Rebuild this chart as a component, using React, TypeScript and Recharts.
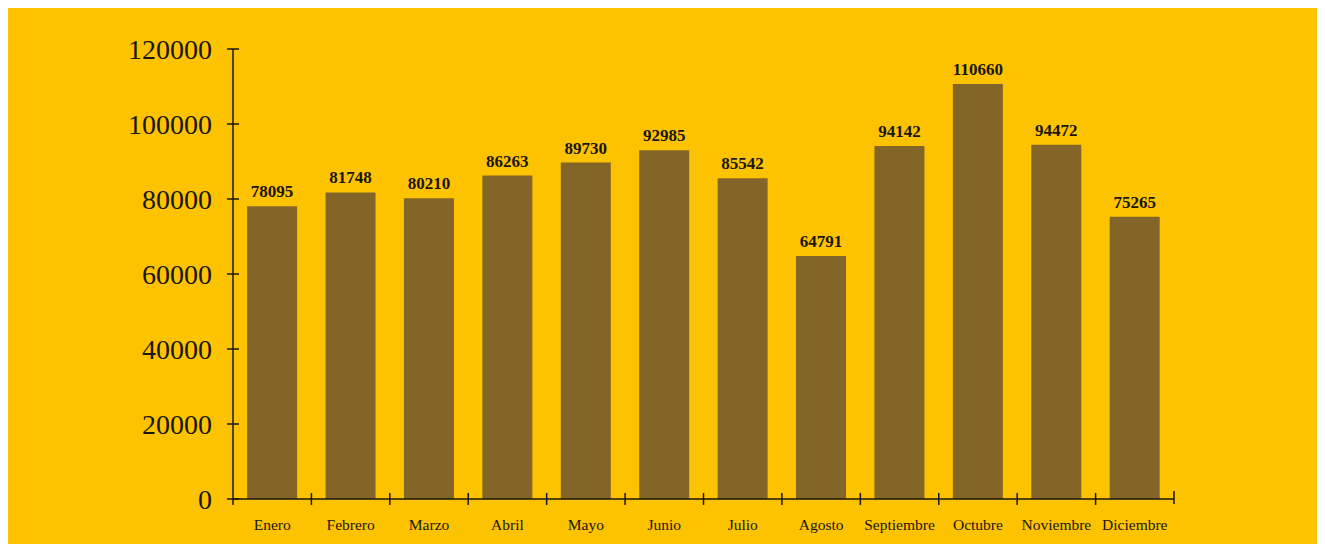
import { BarChart, Bar, XAxis, YAxis, LabelList } from "recharts";

const MONTHS = [
  "Enero",
  "Febrero",
  "Marzo",
  "Abril",
  "Mayo",
  "Junio",
  "Julio",
  "Agosto",
  "Septiembre",
  "Octubre",
  "Noviembre",
  "Diciembre",
];

const VALUES = [78095, 81748, 80210, 86263, 89730, 92985, 85542, 64791, 94142, 110660, 94472, 75265];

const Y_TICKS = [0, 20000, 40000, 60000, 80000, 100000, 120000];

const BG = "#fdc300";
const BAR = "#846528";
const INK = "#1a160e";
const FONT = "'Liberation Serif', 'Times New Roman', serif";

const W = 1317;
const H = 536;
const Y_AXIS_W = 225;
const X_AXIS_H = 45;
const MARGIN = { top: 41, right: 151, left: 0, bottom: 0 };
const BAND = (W - Y_AXIS_W - MARGIN.right) / MONTHS.length;

const Y_TICK_SIZE = 6;
const Y_TICK_MARGIN = 15;
const X_TICK_SIZE = 6;
const X_TICK_MARGIN = 0;

const data = MONTHS.map((month, i) => ({ month, value: VALUES[i] }));

// y ticks cross the axis line, so add the inner half by hand
function YTick(props: any) {
  const { x, y, payload } = props;
  const axisX = x + Y_TICK_SIZE + Y_TICK_MARGIN;
  return (
    <g>
      <line x1={axisX} x2={axisX + 6} y1={y} y2={y} stroke={INK} strokeWidth={1.5} />
      <text
        x={axisX - 21}
        y={y}
        dy="0.35em"
        textAnchor="end"
        fill={INK}
        fontSize={28}
        fontFamily={FONT}
      >
        {payload.value}
      </text>
    </g>
  );
}

// x ticks sit on the category boundaries, labels in the middle
function XTick(props: any) {
  const { x, y, payload, index } = props;
  const axisY = y - X_TICK_SIZE - X_TICK_MARGIN;
  const left = x - BAND / 2;
  const right = x + BAND / 2;
  return (
    <g>
      <line x1={left} x2={left} y1={index === 0 ? axisY : axisY - 6} y2={axisY + 6} stroke={INK} strokeWidth={1.5} />
      {index === MONTHS.length - 1 && (
        <line x1={right} x2={right} y1={axisY - 8} y2={axisY + 5} stroke={INK} strokeWidth={1.5} />
      )}
      <text
        x={x}
        y={axisY + 26}
        dy="0.35em"
        textAnchor="middle"
        fill={INK}
        fontSize={15.5}
        fontFamily={FONT}
      >
        {payload.value}
      </text>
    </g>
  );
}

export default function App() {
  return (
    <div style={{ width: W, height: H, background: BG }}>
      <BarChart width={W} height={H} data={data} margin={MARGIN} barCategoryGap="18%">
        <XAxis
          dataKey="month"
          height={X_AXIS_H}
          interval={0}
          tickLine={false}
          tickSize={X_TICK_SIZE}
          tickMargin={X_TICK_MARGIN}
          axisLine={{ stroke: INK, strokeWidth: 1.5 }}
          tick={<XTick />}
        />
        <YAxis
          width={Y_AXIS_W}
          domain={[0, 120000]}
          ticks={Y_TICKS}
          interval={0}
          tickSize={Y_TICK_SIZE}
          tickMargin={Y_TICK_MARGIN}
          tickLine={{ stroke: INK, strokeWidth: 1.5 }}
          axisLine={{ stroke: INK, strokeWidth: 1.5 }}
          tick={<YTick />}
        />
        <Bar dataKey="value" fill={BAR} isAnimationActive={false}>
          <LabelList
            dataKey="value"
            position="top"
            offset={9}
            fill={INK}
            fontSize={17}
            fontWeight="bold"
            fontFamily={FONT}
          />
        </Bar>
      </BarChart>
    </div>
  );
}
